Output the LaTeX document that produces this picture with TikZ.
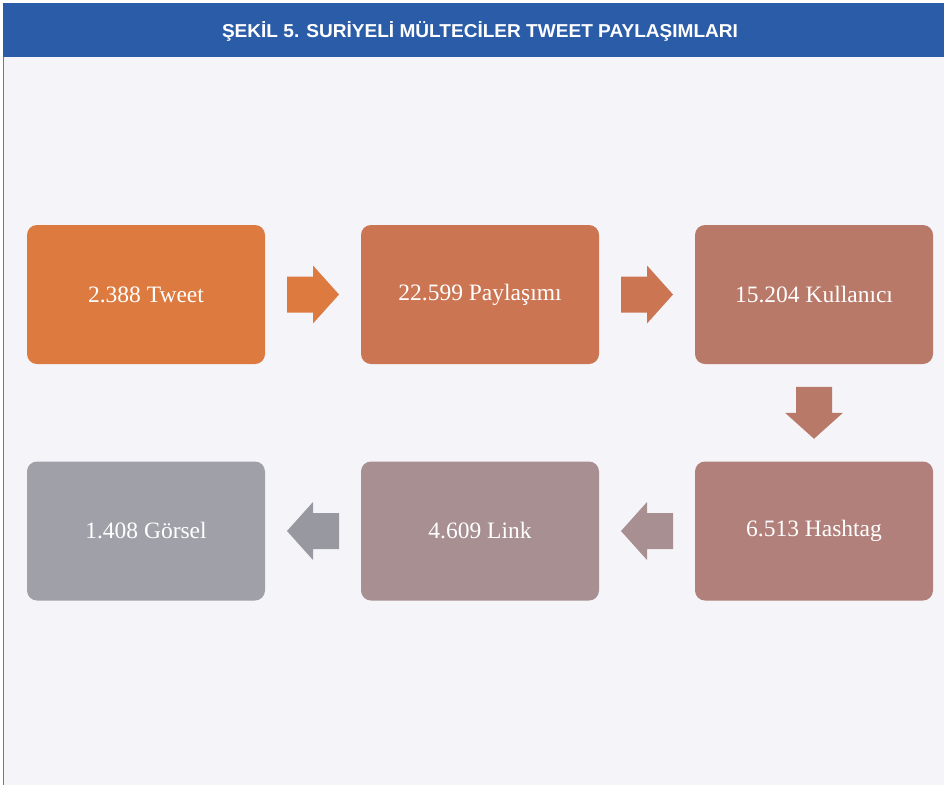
\documentclass[tikz,border=0pt]{standalone}
\usepackage{fontspec}
\setmainfont{Liberation Serif}
\newfontfamily\headfont{Liberation Sans}
\usepackage{tikz}
\usetikzlibrary{calc}
\definecolor{headblue}{HTML}{2B5CA8}
\definecolor{paper}{HTML}{F5F4F9}
\definecolor{c1}{HTML}{DC7A3F}
\definecolor{c2}{HTML}{CB7552}
\definecolor{c3}{HTML}{B97969}
\definecolor{c4}{HTML}{B2807A}
\definecolor{c5}{HTML}{A78F92}
\definecolor{c6}{HTML}{A0A0A9}
\tikzset{
	main node/.style={rectangle,rounded corners=10pt,minimum width=238pt,minimum height=139pt,
		inner sep=0pt,text=white,font=\fontsize{23.5}{26}\selectfont},
	blockarrow/.pic={\fill (-26,-18) -- (0,-18) -- (0,-29) -- (26,0) -- (0,29) -- (0,18) -- (-26,18) -- cycle;}
}

\begin{document}
\begin{tikzpicture}[x=1pt,y=1pt]
	\useasboundingbox (0,0) rectangle (944,-785);
	\fill[white] (0,0) rectangle (944,-785);
	\fill[paper] (3,-3) rectangle (944,-785);
	\fill[headblue] (3,-3) rectangle (944,-57);
	\draw[headblue!80,line width=1.2pt] (3.6,-57) -- (3.6,-785);
	\node [text=white,inner sep=0pt,anchor=base] (title) at (480,-37)
		{\resizebox{516pt}{16pt}{\headfont\bfseries ŞEKİL 5. SURİYELİ MÜLTECİLER TWEET PAYLAŞIMLARI}};
	\node [main node,fill=c1] (1) at (146,-294.5) {2.388 Tweet};
	\node [main node,fill=c2] (2) at (480,-294.5) {22.599 Paylaşımı};
	\node [main node,fill=c3] (3) at (814,-294.5) {15.204 Kullanıcı};
	\node [main node,fill=c4] (4) at (814,-531) {6.513 Hashtag};
	\node [main node,fill=c5] (5) at (480,-531) {4.609 Link};
	\node [main node,fill=c6] (6) at (146,-531) {1.408 Görsel};
	\pic [fill=c1] at ($(1.east)!0.5!(2.west)$) {blockarrow};
	\pic [fill=c2] at ($(2.east)!0.5!(3.west)$) {blockarrow};
	\pic [fill=c3,rotate=-90] at ($(3.south)!0.5!(4.north)$) {blockarrow};
	\pic [fill=c5,rotate=180] at ($(4.west)!0.5!(5.east)$) {blockarrow};
	\pic [fill=c6!95!black,rotate=180] at ($(5.west)!0.5!(6.east)$) {blockarrow};
\end{tikzpicture}
\end{document}
